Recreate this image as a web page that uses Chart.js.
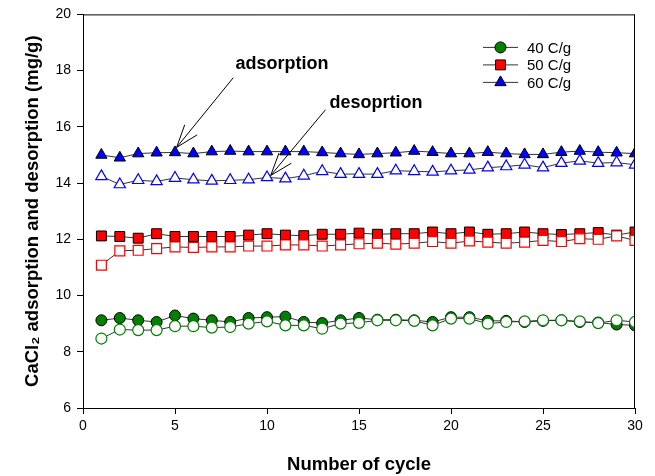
<!DOCTYPE html>
<html>
<head>
<meta charset="utf-8">
<script src="https://cdn.jsdelivr.net/npm/chart.js@4/dist/chart.umd.min.js"></script>
<style>
  body { margin: 0; background: #fff; }
  #wrap { width: 655px; height: 476px; }
</style>
</head>
<body>
<div id="wrap"><canvas id="cycleChart" width="655" height="476"></canvas></div>
<script>
// cycle numbers
const cycles = [1, 2, 3, 4, 5, 6, 7, 8, 9, 10, 11, 12, 13, 14, 15,
                16, 17, 18, 19, 20, 21, 22, 23, 24, 25, 26, 27, 28, 29, 30];

// adsorption (filled markers), mg/g
const ads40 = [9.12, 9.20, 9.12, 9.06, 9.29, 9.18, 9.12, 9.06, 9.20, 9.23, 9.25, 9.06, 9.02, 9.12, 9.20,
               9.14, 9.14, 9.12, 9.06, 9.23, 9.23, 9.10, 9.10, 9.06, 9.10, 9.12, 9.06, 9.04, 8.97, 8.94];
const ads50 = [12.12, 12.10, 12.04, 12.20, 12.10, 12.10, 12.10, 12.10, 12.15, 12.20, 12.15, 12.13, 12.18, 12.18, 12.22,
               12.18, 12.20, 12.20, 12.26, 12.20, 12.26, 12.18, 12.20, 12.26, 12.20, 12.17, 12.20, 12.24, 12.15, 12.26];
const ads60 = [15.00, 14.90, 15.05, 15.08, 15.09, 15.05, 15.12, 15.14, 15.12, 15.12, 15.12, 15.12, 15.09, 15.05, 15.02,
               15.05, 15.08, 15.14, 15.10, 15.05, 15.05, 15.10, 15.05, 15.02, 15.02, 15.10, 15.14, 15.10, 15.08, 15.05];

// desorption (open markers), mg/g
const des40 = [8.47, 8.79, 8.77, 8.77, 8.91, 8.91, 8.86, 8.88, 9.00, 9.08, 8.94, 8.94, 8.82, 9.00, 9.03,
               9.12, 9.12, 9.10, 8.94, 9.18, 9.18, 9.00, 9.06, 9.08, 9.12, 9.12, 9.08, 9.02, 9.12, 9.06];
const des50 = [11.08, 11.59, 11.61, 11.67, 11.73, 11.71, 11.73, 11.73, 11.76, 11.76, 11.80, 11.80, 11.76, 11.80, 11.84,
               11.86, 11.83, 11.86, 11.92, 11.86, 11.94, 11.90, 11.86, 11.90, 11.96, 11.92, 12.02, 12.00, 12.12, 11.96];
const des60 = [14.24, 13.95, 14.10, 14.06, 14.18, 14.12, 14.08, 14.10, 14.12, 14.20, 14.16, 14.26, 14.42, 14.32, 14.32,
               14.32, 14.44, 14.42, 14.40, 14.44, 14.47, 14.55, 14.59, 14.65, 14.55, 14.71, 14.79, 14.71, 14.73, 14.65];

const seriesLabels = ['40 C/g', '50 C/g', '60 C/g'];
const xTicks = [0, 5, 10, 15, 20, 25, 30];
const yTicks = [6, 8, 10, 12, 14, 16, 18, 20];

// annotation text and arrows, in data units
const notes = [
    { text: 'adsorption', x: 10.82, y: 18.23, fromX: 8.17, fromY: 17.75, toX: 5.09, toY: 15.27 },
    { text: 'desoprtion', x: 15.92, y: 16.86, fromX: 13.18, fromY: 16.61, toX: 10.2, toY: 14.27 }
];

const colors = ['#008000', '#ff0000', '#0000ff'];
const shapes = ['circle', 'rect', 'triangle'];
const radii = [5.5, 7, 6.5];
const lineColor = '#333';

function toXY(vals) {
    return cycles.map((c, i) => ({ x: c, y: vals[i] }));
}

const adsSets = [ads40, ads50, ads60].map((vals, i) => ({
    label: seriesLabels[i],
    data: toXY(vals),
    borderColor: lineColor,
    borderWidth: 1,
    pointStyle: shapes[i],
    pointRadius: radii[i],
    pointBackgroundColor: colors[i],
    pointBorderColor: '#000',
    pointBorderWidth: 1,
    order: 2
}));

const desSets = [des40, des50, des60].map((vals, i) => ({
    label: seriesLabels[i] + ' desorption',
    data: toXY(vals),
    borderColor: lineColor,
    borderWidth: 1,
    pointStyle: shapes[i],
    pointRadius: radii[i],
    pointBackgroundColor: '#fff',
    pointBorderColor: colors[i],
    pointBorderWidth: 1.2,
    order: 1
}));

// frame, annotations and legend drawn on top of the chart
const extras = {
    id: 'extras',
    afterDraw(chart) {
        const ctx = chart.ctx;
        const area = chart.chartArea;
        const xs = chart.scales.x;
        const ys = chart.scales.y;

        ctx.save();
        ctx.strokeStyle = '#000';
        ctx.lineWidth = 1;
        ctx.beginPath();
        ctx.moveTo(area.left, area.top + 0.5);
        ctx.lineTo(area.right, area.top + 0.5);
        ctx.moveTo(area.right - 0.5, area.top);
        ctx.lineTo(area.right - 0.5, area.bottom);
        ctx.stroke();

        // annotations
        ctx.font = 'bold 18px Arial, "Liberation Sans", sans-serif';
        ctx.fillStyle = '#000';
        ctx.textAlign = 'center';
        ctx.textBaseline = 'middle';
        notes.forEach(n => {
            ctx.fillText(n.text, xs.getPixelForValue(n.x), ys.getPixelForValue(n.y));
            const x0 = xs.getPixelForValue(n.fromX), y0 = ys.getPixelForValue(n.fromY);
            const x1 = xs.getPixelForValue(n.toX), y1 = ys.getPixelForValue(n.toY);
            const ang = Math.atan2(y0 - y1, x0 - x1);
            const head = 24, spread = 0.34;
            ctx.beginPath();
            ctx.moveTo(x0, y0);
            ctx.lineTo(x1, y1);
            ctx.moveTo(x1, y1);
            ctx.lineTo(x1 + head * Math.cos(ang - spread), y1 + head * Math.sin(ang - spread));
            ctx.moveTo(x1, y1);
            ctx.lineTo(x1 + head * Math.cos(ang + spread), y1 + head * Math.sin(ang + spread));
            ctx.stroke();
        });

        // legend
        ctx.font = '15px Arial, "Liberation Sans", sans-serif';
        ctx.textAlign = 'left';
        const lx = area.right - 152;
        adsSets.forEach((ds, i) => {
            const ly = area.top + 33 + i * 17.5;
            ctx.strokeStyle = lineColor;
            ctx.beginPath();
            ctx.moveTo(lx, ly);
            ctx.lineTo(lx + 35, ly);
            ctx.stroke();
            ctx.fillStyle = colors[i];
            ctx.strokeStyle = '#000';
            Chart.helpers.drawPoint(ctx, { pointStyle: shapes[i], radius: radii[i], rotation: 0, borderWidth: 1 }, lx + 17.5, ly);
            ctx.fillStyle = '#000';
            ctx.fillText(ds.label, lx + 44, ly + 1);
        });
        ctx.restore();
    }
};

const tickFont = { family: 'Arial, "Liberation Sans", sans-serif', size: 14 };
const titleFont = { family: 'Arial, "Liberation Sans", sans-serif', size: 18.5, weight: 'bold' };

new Chart(document.getElementById('cycleChart').getContext('2d'), {
    type: 'line',
    data: { datasets: adsSets.concat(desSets) },
    options: {
        responsive: false,
        animation: false,
        layout: { padding: { top: 12, right: 20, left: 0, bottom: 0 } },
        plugins: {
            legend: { display: false },
            tooltip: { enabled: false }
        },
        scales: {
            x: {
                type: 'linear',
                min: 0,
                max: 30,
                afterBuildTicks: s => { s.ticks = xTicks.map(v => ({ value: v })); },
                afterFit: s => { s.height = 68; },
                grid: { drawOnChartArea: false, tickLength: 6, color: '#000' },
                border: { color: '#000', width: 1 },
                ticks: { color: '#000', font: tickFont, padding: 4, maxRotation: 0 },
                title: { display: true, text: 'Number of cycle', color: '#000', font: titleFont, padding: { top: 0, bottom: 0 } }
            },
            y: {
                min: 6,
                max: 20,
                afterBuildTicks: s => { s.ticks = yTicks.map(v => ({ value: v })); },
                afterFit: s => { s.width = 83; },
                grid: { drawOnChartArea: false, tickLength: 6, color: '#000' },
                border: { color: '#000', width: 1 },
                ticks: { color: '#000', font: tickFont, padding: 6 },
                title: { display: true, text: 'CaCl₂ adsorption and desorption (mg/g)', color: '#000', font: titleFont, padding: { top: 22, bottom: 0 } }
            }
        }
    },
    plugins: [extras]
});
</script>
</body>
</html>
